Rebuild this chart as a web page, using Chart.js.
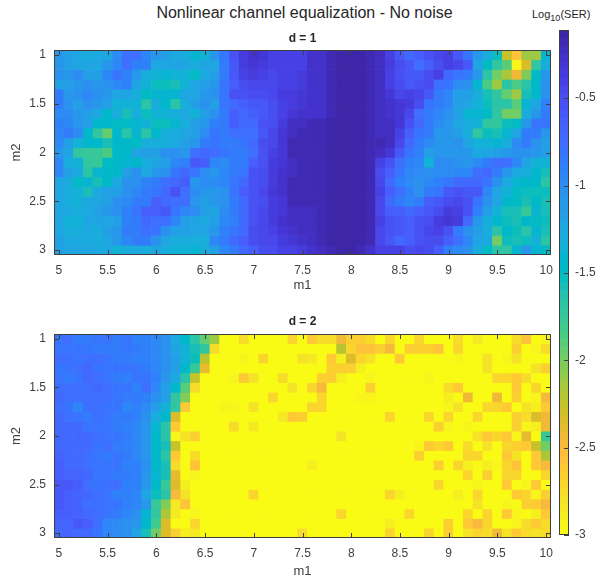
<!DOCTYPE html>
<html>
<head>
<meta charset="utf-8">
<script src="https://cdn.jsdelivr.net/npm/chart.js@4"></script>
<style>
    body { margin: 0; background: #fff; font-family: "Liberation Sans", Arial, sans-serif; }
    canvas { position: absolute; }
    .txt { position: absolute; white-space: nowrap; }
    #mainTitle { left: 0; width: 609px; top: 4px; text-align: center; font-size: 16px; color: #262626; }
    #cbTitle { left: 532px; top: 8px; font-size: 11px; color: #262626; }
    #cbTitle sub { font-size: 9px; }
</style>
</head>
<body>
<div class="txt" id="mainTitle">Nonlinear channel equalization - No noise</div>
<div class="txt" id="cbTitle">Log<sub>10</sub>(SER)</div>
<canvas id="panelD1" width="597" height="293" style="left:0;top:0"></canvas>
<canvas id="panelD2" width="597" height="294" style="left:0;top:285px"></canvas>
<canvas id="colorbar" width="38" height="581" style="left:559px;top:0"></canvas>
<script>
const m1 = [5, 5.1, 5.2, 5.3, 5.4, 5.5, 5.6, 5.7, 5.8, 5.9, 6, 6.1, 6.2, 6.3, 6.4, 6.5, 6.6, 6.7, 6.8, 6.9, 7, 7.1, 7.2, 7.3, 7.4, 7.5,
    7.6, 7.7, 7.8, 7.9, 8, 8.1, 8.2, 8.3, 8.4, 8.5, 8.6, 8.7, 8.8, 8.9, 9, 9.1, 9.2, 9.3, 9.4, 9.5, 9.6, 9.7, 9.8, 9.9, 10];
const m2 = [1, 1.1, 1.2, 1.3, 1.4, 1.5, 1.6, 1.7, 1.8, 1.9, 2, 2.1, 2.2, 2.3, 2.4, 2.5, 2.6, 2.7, 2.8, 2.9, 3];

const m1Ticks = [5, 5.5, 6, 6.5, 7, 7.5, 8, 8.5, 9, 9.5, 10];
const m2Ticks = [1, 1.5, 2, 2.5, 3];
const cbTicks = [-0.5, -1, -1.5, -2, -2.5, -3];

const cbMin = -3;
const cbMax = -0.11;

// log10(SER), one row per m2 value, left part then right part of the map
const serD1 = [
    [-1.1,-1.15,-1.2,-1.3,-1.25,-1.2,-1,-.75,-.75,-.95,-1.1,-1.15,-1.25,-1.3,-1.4,-1.35,-1.1,-.8,-.55,-.35,-.25,-.3,-.4,-.42,-.42,-.4,
     -.28,-.25,-.2,-.15,-.14,-.14,-.2,-.24,-.4,-.6,-.7,-.65,-.55,-.45,-.4,-.6,-.8,-1.1,-1.3,-1.55,-2.25,-2.55,-2.1,-2.1,-1.4],
    [-1.1,-1.15,-1.2,-1.2,-1.2,-1.1,-.95,-.75,-.9,-.9,-1.25,-1.2,-1.2,-1.2,-1.3,-1.2,-1.2,-.85,-.6,-.35,-.3,-.35,-.4,-.42,-.42,-.4,
     -.28,-.25,-.2,-.15,-.14,-.14,-.2,-.24,-.35,-.5,-.6,-.75,-.65,-.5,-.42,-.45,-.6,-1.2,-1.5,-1.7,-1.9,-2.95,-2.35,-1.7,-1.3],
    [-1.05,-1.1,-1,-1.15,-1.15,-.95,-.8,-.9,-1.1,-1.3,-1.35,-1.4,-1.35,-1.35,-1.5,-1.25,-1.15,-.85,-.6,-.4,-.38,-.4,-.45,-.42,-.42,-.38,
     -.28,-.25,-.2,-.15,-.14,-.14,-.2,-.24,-.4,-.55,-.6,-.6,-.5,-.42,-.7,-.8,-.85,-1.1,-1.65,-2,-2.15,-2.45,-2.05,-1.5,-1.1],
    [-1.15,-1.15,-1.1,-1.05,-1.1,-1.05,-.95,-.9,-1.2,-1.35,-1.55,-1.55,-1.6,-1.35,-1.2,-1.15,-1.1,-.8,-.65,-.5,-.45,-.45,-.45,-.42,-.4,-.35,
     -.28,-.25,-.2,-.15,-.14,-.14,-.2,-.24,-.4,-.5,-.6,-.55,-.5,-.75,-.8,-1,-1.05,-1.4,-1.85,-2.1,-1.65,-1.85,-1.65,-1.45,-1.05],
    [-.85,-1.1,-1.05,-.95,-1.05,-1.1,-1.2,-1.2,-1.3,-1.5,-1.4,-1.4,-1.4,-1.2,-1.2,-1.1,-1.05,-.8,-.55,-.55,-.5,-.5,-.45,-.38,-.35,-.3,
     -.28,-.25,-.2,-.15,-.14,-.14,-.2,-.24,-.3,-.45,-.4,-.45,-.6,-.85,-.95,-1.15,-1.15,-1.3,-1.6,-1.7,-1.95,-2.1,-1.6,-1.45,-1.05],
    [-.85,-1.05,-1.15,-1.05,-1.1,-1.15,-1.35,-1.35,-1.35,-1.65,-1.3,-1.45,-1.65,-1.3,-1.15,-1.05,-1.15,-.8,-.7,-.62,-.6,-.6,-.5,-.42,-.35,-.3,
     -.28,-.25,-.2,-.15,-.14,-.14,-.2,-.24,-.25,-.3,-.35,-.5,-.8,-.85,-.95,-1.15,-1.2,-1.35,-1.55,-1.65,-1.65,-1.9,-1.4,-1.2,-.9],
    [-1,-1,-1.1,-1.15,-1.25,-1.45,-1.3,-1.6,-1.3,-1.55,-1.35,-1.35,-1.3,-1.25,-1.35,-1.15,-1.05,-.85,-.65,-.7,-.65,-.6,-.5,-.4,-.3,-.25,
     -.28,-.25,-.2,-.15,-.14,-.14,-.2,-.24,-.25,-.3,-.45,-.75,-.85,-.95,-1.05,-1.15,-1.4,-1.4,-1.5,-1.7,-2,-2,-1.3,-1.1,-.85],
    [-.9,-.95,-1.1,-1.15,-1.45,-1.45,-1.5,-1.5,-1.4,-1.35,-1.55,-1.55,-1.4,-1.3,-1.15,-1.1,-.9,-.85,-.65,-.7,-.7,-.55,-.48,-.35,-.22,-.22,
     -.2,-.18,-.15,-.13,-.13,-.13,-.16,-.22,-.22,-.3,-.55,-.7,-.85,-1,-1.1,-1.2,-1.3,-1.35,-1.7,-1.7,-1.55,-1.5,-1.1,-.8,-.8],
    [-.95,-.85,-1,-1.45,-1.7,-1.95,-1.45,-1.65,-1.4,-1.65,-1.45,-1.3,-1.3,-1.2,-1.15,-1,-.8,-.85,-.75,-.75,-.75,-.6,-.45,-.32,-.22,-.2,
     -.2,-.18,-.15,-.13,-.13,-.13,-.16,-.22,-.22,-.4,-.65,-.8,-.85,-1.1,-1.1,-1.15,-1.3,-1.7,-1.55,-1.6,-1.4,-1.2,-.85,-.85,-1.1],
    [-1,-1.15,-1.35,-1.45,-1.45,-1.6,-1.45,-1.45,-1.5,-1.3,-1.3,-1.3,-1.25,-1.15,-1.1,-.85,-.8,-.85,-.85,-.8,-.7,-.5,-.45,-.32,-.2,-.18,
     -.2,-.18,-.15,-.13,-.13,-.13,-.16,-.2,-.22,-.45,-.7,-.85,-1,-1.1,-1.1,-1.05,-1.2,-1.35,-1.35,-1.4,-1.3,-1,-.85,-1.05,-1.15],
    [-1.1,-1.2,-1.7,-1.75,-1.75,-1.85,-1.45,-1.45,-1.2,-1.15,-1.15,-1.05,-1.05,-1.1,-.75,-.7,-.75,-.8,-.85,-.85,-.75,-.55,-.4,-.3,-.2,-.18,
     -.2,-.18,-.15,-.13,-.13,-.13,-.16,-.22,-.3,-.6,-.8,-.9,-1.15,-1.1,-1.1,-1.1,-1.1,-1.25,-1.2,-1.15,-1.1,-1.05,-1.05,-1.1,-1.15],
    [-.95,-1.3,-1.35,-1.7,-1.75,-1.5,-1.45,-1.4,-1.45,-1.3,-1.2,-1.15,-.95,-.9,-.6,-.65,-.95,-1,-.85,-.85,-.65,-.55,-.38,-.3,-.22,-.2,
     -.2,-.18,-.15,-.13,-.13,-.13,-.16,-.4,-.55,-.75,-.9,-.95,-1.35,-1,-1,-1.05,-1.1,-1,-.85,-.75,-.75,-.95,-1.2,-1.35,-1.35],
    [-.95,-1.15,-1.25,-1.65,-1.4,-1.45,-1.45,-1.15,-1.05,-1.25,-1.1,-1.05,-.8,-.7,-.8,-1,-1.1,-.95,-.85,-.8,-.55,-.5,-.35,-.28,-.22,-.2,
     -.2,-.18,-.15,-.13,-.13,-.13,-.16,-.5,-.65,-.8,-.95,-1,-1.05,-1,-1,-.95,-.95,-.75,-.7,-.85,-1.1,-1.25,-1.3,-1.45,-1.6],
    [-1.2,-1.25,-1.5,-1.4,-1.6,-1.45,-1.25,-1.05,-1.05,-.9,-.85,-.75,-.7,-.65,-1.1,-1,-1,-.95,-.8,-.7,-.55,-.5,-.35,-.25,-.2,-.18,
     -.2,-.18,-.15,-.13,-.13,-.13,-.18,-.45,-.7,-.9,-1,-1.05,-.95,-.9,-.8,-.7,-.7,-.7,-.8,-1.05,-1.25,-1.4,-1.45,-1.45,-1.65],
    [-1.2,-1.3,-1.35,-1.6,-1.25,-1.15,-1.15,-1.05,-.95,-.85,-.8,-.7,-.55,-.75,-1,-1.1,-1.1,-1.05,-.8,-.65,-.55,-.45,-.3,-.25,-.2,-.18,
     -.2,-.18,-.15,-.13,-.13,-.13,-.18,-.42,-.65,-.75,-.9,-1.05,-.85,-.8,-.6,-.55,-.6,-.6,-.95,-1.2,-1.35,-1.5,-1.55,-1.55,-1.55],
    [-1.2,-1.3,-1.35,-1.25,-1.2,-1.15,-1.05,-1,-.85,-.85,-.65,-.7,-.75,-.75,-1.1,-1.15,-1.1,-1.05,-.85,-.7,-.55,-.5,-.38,-.3,-.2,-.18,
     -.2,-.18,-.15,-.13,-.13,-.13,-.18,-.45,-.7,-.85,-.95,-.85,-.65,-.6,-.5,-.45,-.55,-.8,-1.05,-1.2,-1.45,-1.5,-1.6,-1.45,-1.6],
    [-1.2,-1.25,-1.3,-1.25,-1.15,-1.1,-1.05,-.9,-.8,-.65,-.65,-.6,-.8,-.95,-1,-1.15,-1.2,-1,-.85,-.7,-.55,-.45,-.38,-.3,-.24,-.22,
     -.22,-.2,-.15,-.13,-.13,-.14,-.2,-.45,-.65,-.65,-.7,-.65,-.6,-.5,-.35,-.4,-.55,-.9,-1.15,-1.35,-1.6,-1.6,-1.75,-1.4,-1.6],
    [-1.2,-1.35,-1.35,-1.2,-1.2,-1.2,-1.15,-.9,-.85,-.7,-.75,-.75,-.95,-1.15,-1.2,-1.25,-1.15,-.95,-.9,-.7,-.55,-.45,-.35,-.25,-.24,-.22,
     -.22,-.2,-.15,-.13,-.13,-.14,-.2,-.42,-.55,-.6,-.65,-.55,-.5,-.35,-.32,-.35,-.7,-1.1,-1.3,-1.45,-1.55,-1.6,-1.45,-1.5,-1.55],
    [-1.2,-1.3,-1.3,-1.25,-1.3,-1.15,-1.1,-.85,-.85,-.75,-.8,-1.05,-1.15,-1.15,-1.2,-1.2,-1.1,-.9,-.8,-.7,-.5,-.45,-.4,-.3,-.25,-.24,
     -.22,-.2,-.15,-.13,-.13,-.14,-.2,-.45,-.55,-.6,-.65,-.55,-.45,-.4,-.55,-.85,-1.05,-1.15,-1.3,-1.65,-1.45,-1.55,-1.65,-1.4,-1.6],
    [-1.15,-1.25,-1.25,-1.25,-1.3,-1.2,-1.1,-.95,-.85,-.85,-1.05,-1.2,-1.3,-1.3,-1.3,-1.3,-.95,-.85,-.7,-.65,-.5,-.45,-.45,-.35,-.3,-.25,
     -.22,-.2,-.15,-.13,-.13,-.14,-.2,-.45,-.6,-.7,-.65,-.55,-.5,-.5,-.65,-.75,-.95,-1.2,-1.25,-2,-1.55,-1.6,-1.55,-1.35,-1.65],
    [-1.15,-1.2,-1.2,-1.2,-1.25,-1.25,-1.35,-1.3,-1.25,-1.3,-1.2,-1.3,-1.35,-1.35,-1.4,-1.3,-1.15,-.95,-.85,-.7,-.65,-.5,-.5,-.42,-.4,-.35,
     -.25,-.22,-.18,-.13,-.13,-.16,-.25,-.42,-.42,-.42,-.5,-.45,-.5,-.65,-.9,-1,-1.05,-1.3,-1.5,-1.65,-1.7,-1.4,-1.1,-1.4,-1.5]
];

const serD2 = [
    [-.8,-.78,-.85,-.85,-.8,-.8,-.85,-.8,-.88,-.92,-.95,-1.05,-1.25,-1.45,-1.65,-1.95,-2.1,-3,-3,-2.75,-3,-3,-3,-3,-2.7,-3,
     -2.6,-2.75,-2.75,-2.45,-2.65,-2.65,-2.75,-3,-2.7,-3,-3,-2.7,-3,-3,-3,-2.75,-3,-2.85,-3,-3,-3,-2.75,-2.55,-3,-2.95],
    [-.8,-.8,-.82,-.82,-.85,-.85,-.85,-.82,-.85,-.9,-.95,-1.05,-1.2,-1.35,-1.6,-1.7,-2.75,-3,-3,-3,-3,-3,-3,-3,-3,-3,
     -3,-3,-3,-2.2,-2.7,-2.55,-2.55,-2.65,-2.5,-3,-2.65,-2.65,-2.65,-2.55,-3,-2.7,-3,-3,-3,-3,-3,-2.65,-3,-2.95,-2.75],
    [-.78,-.78,-.8,-.75,-.78,-.82,-.85,-.85,-.88,-.92,-.95,-1.05,-1.15,-1.35,-1.55,-2.2,-3,-3,-3,-2.93,-3,-2.7,-3,-3,-3,-2.8,
     -2.85,-3,-2.6,-2.9,-2.35,-2.7,-2.8,-3,-3,-2.6,-3,-3,-3,-3,-3,-2.95,-3,-3,-2.8,-3,-2.93,-2.8,-3,-3,-3],
    [-.8,-.8,-.75,-.72,-.8,-.8,-.82,-.8,-.82,-.85,-.95,-1.05,-1.15,-1.45,-1.75,-2.4,-3,-3,-3,-3,-3,-2.97,-3,-3,-3,-3,
     -3,-3,-2.65,-2.65,-2.65,-2.9,-3,-3,-3,-3,-3,-3,-3,-3,-3,-3,-3,-3,-2.8,-3,-3,-3,-3,-2.8,-2.65],
    [-.82,-.85,-.82,-.7,-.78,-.82,-.85,-.88,-.82,-.82,-.92,-1.1,-1.25,-1.65,-2.25,-3,-3,-3,-2.93,-2.6,-2.8,-3,-3,-2.75,-3,-3,
     -3,-2.65,-2.65,-2.9,-3,-3,-2.95,-3,-3,-3,-2.97,-3,-2.95,-3,-3,-3,-3,-3,-3,-2.7,-2.7,-2.6,-2.75,-3,-3],
    [-.75,-.78,-.78,-.78,-.72,-.78,-.82,-.82,-.88,-.75,-.95,-1.15,-1.45,-1.9,-2.75,-2.97,-3,-3,-3,-3,-3,-3,-3,-3,-2.8,-3,
     -2.7,-2.5,-3,-3,-3,-3,-2.65,-2.97,-3,-3,-3,-3,-3,-3,-2.75,-2.6,-3,-3,-3,-3,-3,-2.6,-3,-2.7,-3],
    [-.72,-.75,-.78,-.75,-.78,-.78,-.8,-.85,-.85,-.88,-1.05,-1.15,-1.7,-2.05,-3,-3,-3,-3,-3,-3,-3,-3,-2.7,-3,-3,-3,
     -3,-2.7,-3,-3,-3,-2.95,-2.92,-3,-2.97,-3,-3,-3,-3,-3,-2.9,-3,-2.45,-3,-3,-2.45,-3,-2.65,-3,-2.93,-2.5],
    [-.75,-.82,-.95,-.78,-.78,-.8,-.82,-.95,-.9,-1,-1.15,-1.35,-1.7,-2.6,-3,-3,-3,-2.95,-2.95,-3,-2.8,-3,-3,-3,-3,-3,
     -2.7,-2.7,-3,-3,-3,-3,-3,-3,-3,-3,-3,-3,-3,-3,-2.95,-2.8,-3,-3,-2.7,-2.7,-2.6,-3,-2.8,-2.9,-2.6],
    [-.72,-.78,-.8,-.85,-.78,-.82,-.85,-.85,-.92,-1.05,-1.3,-1.45,-2.35,-3,-3,-3,-3,-3,-3,-3,-3,-3,-3,-2.85,-2.6,-2.65,
     -3,-3,-3,-3,-3,-3,-3,-3,-2.7,-3,-3,-3,-2.7,-3,-2.7,-3,-3,-2.7,-3,-3,-3,-2.65,-2.75,-2.35,-2.45],
    [-.7,-.72,-.72,-.82,-.82,-.82,-.85,-.92,-.95,-1.1,-1.4,-1.65,-2.6,-3,-3,-3,-3,-3,-2.75,-3,-2.85,-3,-3,-3,-3,-3,
     -3,-3,-3,-3,-3,-3,-3,-3,-3,-3,-3,-3,-3,-2.65,-2.95,-3,-2.95,-3,-3,-3,-3,-2.65,-2.93,-2.9,-2.45],
    [-.7,-.7,-.7,-.72,-.75,-.8,-.8,-.85,-.95,-1.1,-1.45,-1.65,-2.95,-2.8,-2.65,-3,-3,-3,-3,-3,-3,-3,-3,-3,-3,-3,
     -3,-3,-3,-2.8,-3,-3,-3,-3,-3,-2.97,-3,-3,-3,-3,-3,-3,-3,-2.8,-2.6,-2.7,-2.6,-2.95,-2.4,-3,-1.75],
    [-.72,-.72,-.72,-.72,-.8,-.78,-.85,-.92,-.95,-1.1,-1.45,-1.6,-2.25,-3,-3,-3,-3,-3,-3,-3,-2.97,-3,-3,-3,-3,-3,
     -3,-3,-3,-3,-3,-3,-3,-3,-3,-3,-3,-2.95,-2.6,-2.7,-2.6,-3,-2.75,-3,-2.8,-3,-2.7,-2.65,-2.6,-2.25,-2],
    [-.68,-.7,-.72,-.78,-.8,-.85,-.82,-.85,-.95,-1.1,-1.45,-1.65,-2.6,-3,-2.75,-3,-3,-3,-3,-3,-3,-3,-2.97,-3,-3,-3,
     -3,-3,-3,-3,-3,-3,-3,-3,-3,-3,-3,-2.65,-3,-3,-3,-3,-2.7,-2.7,-3,-3,-2.6,-2.8,-3,-2.6,-2.15],
    [-.65,-.7,-.7,-.78,-.8,-.82,-.82,-.88,-.92,-1.05,-1.45,-1.6,-2.75,-3,-2.55,-3,-3,-3,-3,-3,-3,-3,-3,-3,-3,-3,
     -2.9,-3,-3,-3,-3,-3,-3,-3,-3,-3,-3,-3,-3,-2.65,-3,-2.7,-2.9,-3,-2.9,-2.93,-2.7,-2.55,-3,-2.6,-2.5],
    [-.65,-.68,-.68,-.72,-.8,-.8,-.85,-.85,-.92,-1.1,-1.4,-1.6,-2.4,-3,-2.95,-3,-3,-3,-3,-3,-3,-3,-3,-3,-3,-3,
     -3,-3,-3,-3,-3,-3,-3,-3,-3,-2.97,-3,-3,-3,-3,-3,-3,-2.7,-3,-2.65,-3,-2.7,-2.7,-3,-3,-2.7],
    [-.6,-.6,-.65,-.78,-.8,-.75,-.75,-.88,-.92,-1.1,-1.45,-1.75,-2.35,-2.9,-3,-3,-3,-3,-3,-3,-3,-3,-3,-3,-3,-3,
     -3,-3,-3,-3,-3,-3,-3,-3,-3,-2.97,-3,-3,-3,-2.7,-3,-3,-3,-2.95,-3,-3,-2.6,-3,-2.93,-2.6,-3],
    [-.6,-.62,-.68,-.72,-.78,-.8,-.92,-.92,-.95,-1.2,-1.55,-1.65,-2.5,-2.8,-3,-3,-3,-3,-3,-3,-2.7,-3,-3,-2.97,-3,-3,
     -3,-3,-3,-3,-3,-3,-3,-3,-2.7,-2.9,-3,-3,-3,-3,-3,-2.9,-3,-2.7,-3,-3,-3,-2.6,-2.7,-2.95,-2.65],
    [-.6,-.62,-.68,-.75,-.75,-.8,-.82,-.88,-.95,-1.1,-1.75,-2.05,-2.85,-2.55,-3,-3,-3,-3,-3,-3,-3,-3,-3,-3,-3,-3,
     -3,-3,-3,-3,-3,-3,-3,-3,-3,-3,-3,-3,-3,-3,-3,-2.97,-3,-2.8,-3,-3,-2.95,-3,-2.65,-2.6,-2.5],
    [-.62,-.65,-.68,-.72,-.75,-.8,-.85,-.95,-1.05,-1.4,-1.7,-2.15,-2.85,-3,-2.95,-3,-3,-3,-3,-3,-3,-3,-3,-3,-3,-3,
     -3,-3,-3,-2.7,-3,-3,-3,-3,-3,-3,-2.7,-3,-3,-3,-3,-3,-2.7,-3,-2.7,-3,-2.6,-2.93,-3,-2.9,-2.6],
    [-.68,-.68,-.6,-.65,-.78,-.95,-.98,-1.05,-1.1,-1.45,-1.8,-2.35,-3,-3,-2.7,-3,-3,-3,-3,-3,-3,-3,-3,-3,-3,-3,
     -3,-2.97,-3,-3,-3,-3,-3,-3,-2.9,-3,-2.97,-3,-2.97,-3,-2.65,-3,-2.6,-2.5,-2.7,-3,-3,-2.93,-2.75,-2.6,-2.75],
    [-.7,-.68,-.7,-.72,-.8,-.95,-1,-1.05,-1.2,-1.6,-2,-2.35,-2.65,-2.9,-2.85,-3,-3,-3,-3,-3,-3,-3,-3,-3,-3,-2.75,
     -3,-3,-3,-3,-2.97,-3,-3,-3,-2.7,-3,-3,-3,-2.7,-3,-2.65,-3,-2.8,-2.7,-2.75,-2.45,-2.8,-2.6,-2.75,-2.8,-2.75]
];

// MATLAB parula, 64 steps
const parula = [
    [.2422,.1504,.6603],[.2504,.1650,.7076],[.2578,.1818,.7511],[.2647,.1978,.7952],[.2706,.2147,.8364],[.2751,.2342,.8710],[.2783,.2559,.8991],[.2803,.2782,.9221],
    [.2813,.3006,.9414],[.2810,.3228,.9579],[.2795,.3447,.9717],[.2760,.3667,.9829],[.2699,.3892,.9906],[.2602,.4123,.9952],[.2440,.4358,.9988],[.2206,.4603,.9973],
    [.1963,.4847,.9892],[.1834,.5074,.9798],[.1786,.5289,.9682],[.1764,.5499,.9520],[.1687,.5703,.9359],[.1540,.5902,.9218],[.1460,.6091,.9079],[.1380,.6276,.8973],
    [.1248,.6459,.8883],[.1113,.6635,.8763],[.0952,.6798,.8598],[.0689,.6948,.8394],[.0297,.7082,.8163],[.0036,.7203,.7917],[.0067,.7312,.7660],[.0433,.7411,.7394],
    [.0964,.7500,.7120],[.1408,.7584,.6842],[.1717,.7670,.6554],[.1938,.7758,.6251],[.2161,.7843,.5923],[.2470,.7918,.5567],[.2906,.7973,.5188],[.3406,.8008,.4789],
    [.3909,.8029,.4354],[.4456,.8024,.3909],[.5044,.7993,.3480],[.5616,.7942,.3045],[.6174,.7876,.2612],[.6720,.7793,.2227],[.7242,.7698,.1910],[.7738,.7598,.1646],
    [.8203,.7498,.1535],[.8634,.7406,.1596],[.9035,.7330,.1774],[.9393,.7288,.2100],[.9728,.7298,.2394],[.9956,.7434,.2371],[.9970,.7659,.2199],[.9952,.7893,.2028],
    [.9892,.8136,.1885],[.9786,.8386,.1766],[.9676,.8639,.1643],[.9610,.8890,.1537],[.9597,.9135,.1423],[.9628,.9373,.1265],[.9691,.9606,.1064],[.9769,.9839,.0805]
];

const frameColor = '#404040';
const textColor = '#404040';
const fontFamily = '"Liberation Sans", Arial, sans-serif';

function parulaCss(i) {
    const c = parula[i];
    return `rgb(${Math.round(c[0] * 255)}, ${Math.round(c[1] * 255)}, ${Math.round(c[2] * 255)})`;
}

// the colour scale is flipped: the largest value is the dark end
function colorOf(value) {
    let t = (cbMax - value) / (cbMax - cbMin);
    t = Math.min(Math.max(t, 0), 1);
    return parulaCss(Math.min(Math.floor(t * parula.length), parula.length - 1));
}

// frame and inward ticks on all sides, like a MATLAB axes with box on
const boxTicks = {
    id: 'boxTicks',
    afterDatasetsDraw(chart, args, opts) {
        const { ctx, chartArea: a, scales } = chart;
        const len = opts.len;
        ctx.save();
        ctx.strokeStyle = frameColor;
        ctx.lineWidth = 1;
        ctx.beginPath();
        if (scales.x.options.display) {
            scales.x.ticks.forEach((t) => {
                const x = Math.round(scales.x.getPixelForValue(t.value)) + 0.5;
                ctx.moveTo(x, a.top); ctx.lineTo(x, a.top + len);
                ctx.moveTo(x, a.bottom); ctx.lineTo(x, a.bottom - len);
            });
        }
        scales.y.ticks.forEach((t) => {
            const y = Math.round(scales.y.getPixelForValue(t.value)) + 0.5;
            if (scales.x.options.display) {
                ctx.moveTo(a.left, y); ctx.lineTo(a.left + len, y);
            }
            ctx.moveTo(a.right, y); ctx.lineTo(a.right - len, y);
        });
        ctx.stroke();
        ctx.strokeRect(a.left + 0.5, a.top + 0.5, a.right - a.left - 1, a.bottom - a.top - 1);
        ctx.restore();
    }
};

function drawPanel(canvasId, rows, title, titleTop, titleBottom, xHeight) {
    const datasets = rows.map((row, r) => ({
        data: row.map(() => [m2[r] - 0.05, m2[r] + 0.05]),
        backgroundColor: row.map(colorOf),
        borderWidth: 0,
        barPercentage: 1,
        categoryPercentage: 1,
        grouped: false
    }));

    return new Chart(document.getElementById(canvasId), {
        type: 'bar',
        data: { labels: m1, datasets: datasets },
        plugins: [boxTicks],
        options: {
            responsive: false,
            animation: false,
            layout: { padding: { right: 46 } },
            plugins: {
                legend: { display: false },
                tooltip: { enabled: false },
                boxTicks: { len: 5 },
                title: {
                    display: true,
                    text: title,
                    fullSize: false,
                    color: '#262626',
                    font: { family: fontFamily, size: 12, weight: 'bold', lineHeight: 1.2 },
                    padding: { top: titleTop, bottom: titleBottom }
                }
            },
            scales: {
                x: {
                    grid: { display: false },
                    border: { display: false },
                    afterBuildTicks: (s) => { s.ticks = s.ticks.filter((t) => m1Ticks.includes(m1[t.value])); },
                    afterFit: (s) => { s.height = xHeight; },
                    ticks: { autoSkip: false, maxRotation: 0, color: textColor, padding: 0, font: { family: fontFamily, size: 12 } },
                    title: { display: true, text: 'm1', color: textColor, padding: 0, font: { family: fontFamily, size: 13 } }
                },
                y: {
                    type: 'linear',
                    reverse: true,
                    min: 0.95,
                    max: 3.05,
                    grid: { display: false },
                    border: { display: false },
                    afterBuildTicks: (s) => { s.ticks = m2Ticks.map((v) => ({ value: v })); },
                    afterFit: (s) => { s.width = 54; },
                    ticks: { color: textColor, padding: 0, font: { family: fontFamily, size: 12 }, callback: (v) => String(v) },
                    title: { display: true, text: 'm2', color: textColor, padding: { top: 9, bottom: 0 }, font: { family: fontFamily, size: 13 } }
                }
            }
        }
    });
}

function drawColorbar() {
    const step = (cbMax - cbMin) / parula.length;
    const datasets = parula.map((c, i) => ({
        data: [[cbMax - step * (i + 1), cbMax - step * i]],
        backgroundColor: parulaCss(i),
        borderWidth: 0,
        barPercentage: 1,
        categoryPercentage: 1,
        grouped: false
    }));

    return new Chart(document.getElementById('colorbar'), {
        type: 'bar',
        data: { labels: ['SER'], datasets: datasets },
        plugins: [boxTicks],
        options: {
            responsive: false,
            animation: false,
            layout: { padding: { top: 30, bottom: 46 } },
            plugins: {
                legend: { display: false },
                tooltip: { enabled: false },
                boxTicks: { len: 5 }
            },
            scales: {
                x: { display: false },
                y: {
                    position: 'right',
                    min: cbMin,
                    max: cbMax,
                    grid: { display: false },
                    border: { display: false },
                    afterBuildTicks: (s) => { s.ticks = cbTicks.map((v) => ({ value: v })); },
                    afterFit: (s) => { s.width = 28; },
                    ticks: { color: textColor, padding: -2, font: { family: fontFamily, size: 12 }, callback: (v) => String(v) }
                }
            }
        }
    });
}

drawPanel('panelD1', serD1, 'd = 1', 31, 4.6, 38);
drawPanel('panelD2', serD2, 'd = 2', 29, 5.6, 41);
drawColorbar();
</script>
</body>
</html>
